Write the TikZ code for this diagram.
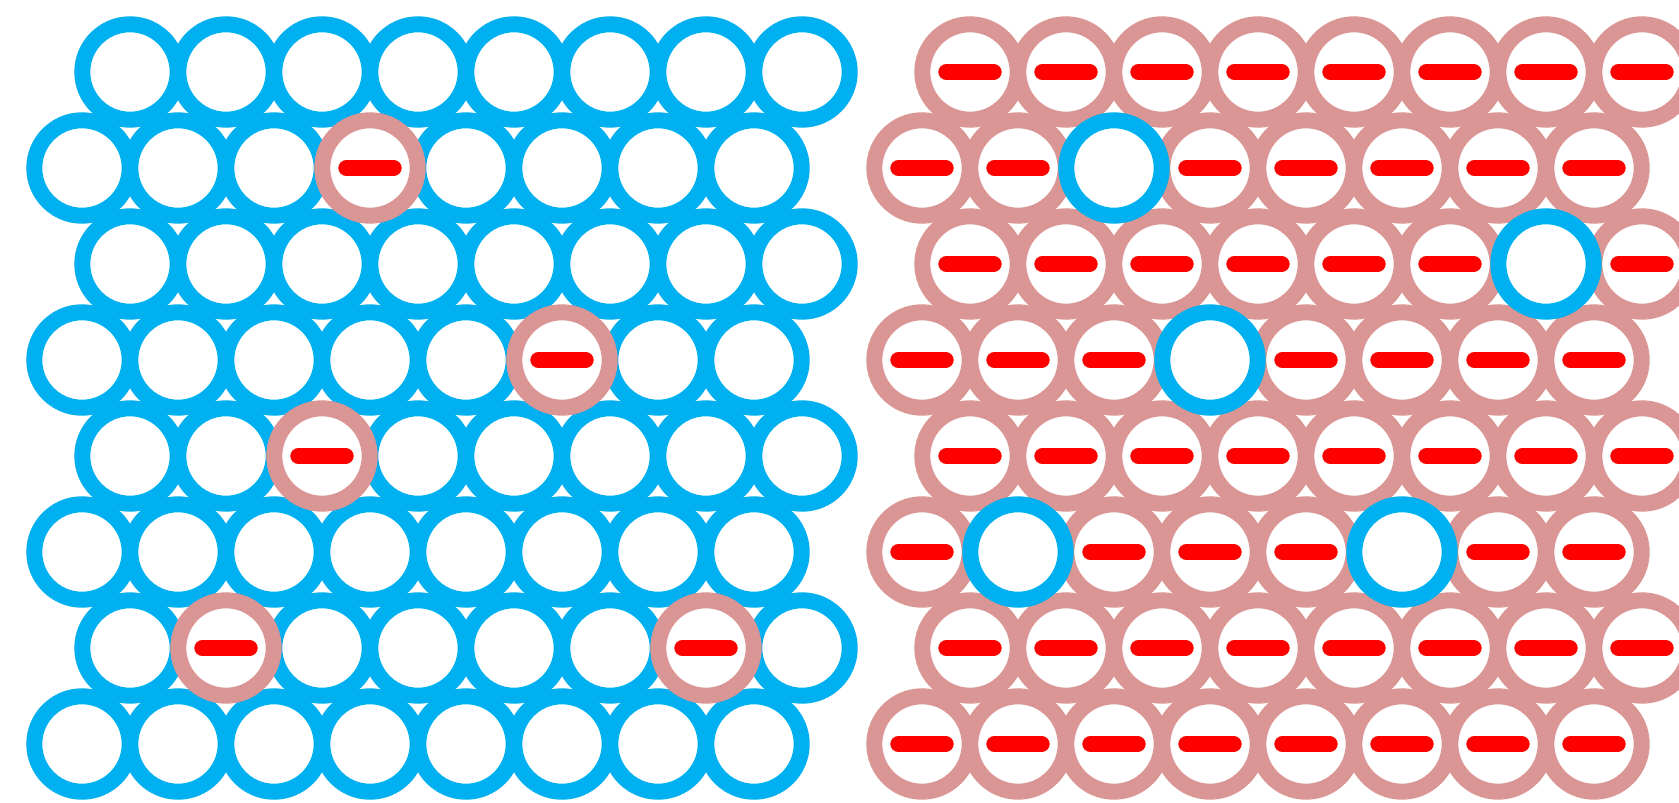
\documentclass[tikz,border=0pt]{standalone}
\usepackage{tikz}

\definecolor{ringblue}{HTML}{00B0F0}
\definecolor{ringpink}{HTML}{D99694}

\begin{document}
\begin{tikzpicture}[
    x=1pt, y=-1pt,
    ring/.style={circle, draw=#1, line width=16pt, minimum size=95.4pt, inner sep=0pt},
    neutral/.style={ring=ringblue},
    anion/.style={ring=ringpink, path picture={
        \draw[red, line width=16pt, line cap=round]
          ([xshift=-23.7pt]path picture bounding box.center) -- ([xshift=23.7pt]path picture bounding box.center);}},
    L0/.style={neutral}, L1/.style={anion},
    R0/.style={anion}, R1/.style={neutral}
]
\clip (0,0) rectangle (1679,803);

% left lattice: blue rings, a few anions
\foreach \pass in {0,1}
  \foreach \j/\bits in {0/{0,0,0,0,0,0,0,0}, 1/{0,0,0,1,0,0,0,0}, 2/{0,0,0,0,0,0,0,0},
                        3/{0,0,0,0,0,1,0,0}, 4/{0,0,1,0,0,0,0,0}, 5/{0,0,0,0,0,0,0,0},
                        6/{0,1,0,0,0,0,1,0}, 7/{0,0,0,0,0,0,0,0}}
    \foreach \b [count=\k from 0] in \bits {
      \ifnum\b=\pass
        \pgfmathsetmacro\xc{130+96*\k-48*mod(\j,2)}
        \node[L\b] (L-\j-\k) at (\xc, 72+96*\j) {};
      \fi
    }

% right lattice: anions, a few blue rings
\foreach \pass in {0,1}
  \foreach \j/\bits in {0/{0,0,0,0,0,0,0,0}, 1/{0,0,1,0,0,0,0,0}, 2/{0,0,0,0,0,0,1,0},
                        3/{0,0,0,1,0,0,0,0}, 4/{0,0,0,0,0,0,0,0}, 5/{0,1,0,0,0,1,0,0},
                        6/{0,0,0,0,0,0,0,0}, 7/{0,0,0,0,0,0,0,0}}
    \foreach \b [count=\k from 0] in \bits {
      \ifnum\b=\pass
        \pgfmathsetmacro\xc{970+96*\k-48*mod(\j,2)}
        \node[R\b] (R-\j-\k) at (\xc, 72+96*\j) {};
      \fi
    }
\end{tikzpicture}
\end{document}
